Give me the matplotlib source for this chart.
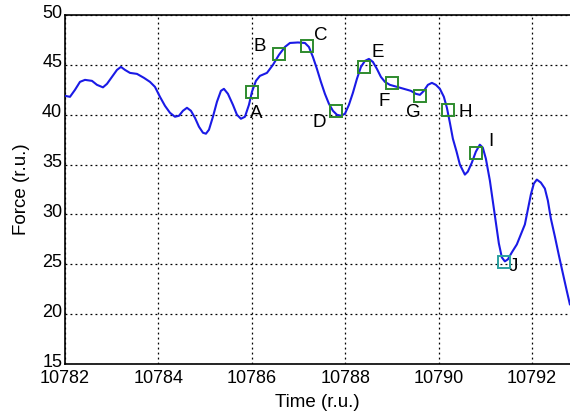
import numpy as np
import matplotlib
matplotlib.use('Agg')
import matplotlib.pyplot as plt
import matplotlib.transforms as mtransforms

plt.rcParams['font.family'] = ['Liberation Sans', 'DejaVu Sans']

# force trace (time given as offset from 10782)
t_off = [0.000, 0.107, 0.214, 0.321, 0.428, 0.578, 0.685, 0.813, 0.899, 1.006,
         1.113, 1.198, 1.284, 1.391, 1.541, 1.691, 1.819, 1.926, 2.033, 2.140,
         2.247, 2.354, 2.440, 2.525, 2.611, 2.696, 2.782, 2.868, 2.953, 3.017,
         3.082, 3.167, 3.253, 3.338, 3.402, 3.488, 3.595, 3.681, 3.766, 3.852,
         3.938, 4.002, 4.087, 4.173, 4.323, 4.451, 4.579, 4.708, 4.815, 4.986,
         5.136, 5.221, 5.307, 5.393, 5.478, 5.564, 5.650, 5.735, 5.821, 5.907,
         5.992, 6.078, 6.163, 6.249, 6.335, 6.420, 6.506, 6.591, 6.677, 6.762,
         6.848, 6.955, 7.105, 7.255, 7.404, 7.511, 7.597, 7.682, 7.768, 7.854,
         7.939, 8.025, 8.110, 8.175, 8.239, 8.303, 8.382, 8.453, 8.560, 8.623,
         8.709, 8.795, 8.880, 8.944, 9.009, 9.095, 9.159, 9.223, 9.287, 9.351,
         9.415, 9.480, 9.565, 9.672, 9.758, 9.844, 9.908, 9.972, 10.036, 10.100,
         10.186, 10.272, 10.336, 10.400, 10.486, 10.572, 10.657, 10.743, 10.807]
force = [41.9, 41.8, 42.5, 43.3, 43.5, 43.4, 43.0, 42.75, 43.1, 43.8,
         44.5, 44.8, 44.5, 44.2, 44.1, 43.7, 43.3, 42.8, 41.8, 40.9,
         40.2, 39.8, 39.9, 40.4, 40.7, 40.4, 39.7, 38.8, 38.2, 38.1,
         38.5, 39.8, 41.3, 42.4, 42.6, 42.1, 41.0, 40.0, 39.6, 39.8,
         41.0, 42.3, 43.4, 43.9, 44.2, 45.0, 46.0, 46.8, 47.2, 47.25,
         47.2, 46.8, 45.8, 44.6, 43.3, 42.1, 41.1, 40.4, 40.0, 39.9,
         40.1, 41.0, 42.2, 43.6, 44.8, 45.4, 45.6, 45.3, 44.6, 43.8,
         43.3, 43.0, 42.8, 42.6, 42.4, 42.1, 42.0, 42.4, 43.0, 43.2,
         43.0, 42.6, 41.8, 40.7, 39.2, 37.6, 36.3, 35.0, 34.0, 34.3,
         35.2, 36.3, 37.0, 36.7, 35.6, 33.4, 31.3, 29.2, 27.1, 25.7,
         25.3, 25.5, 26.2, 27.0, 28.0, 29.0, 30.5, 32.0, 33.1, 33.5,
         33.2, 32.6, 31.4, 29.6, 27.8, 25.9, 24.1, 22.3, 21.0]
time = 10782 + np.array(t_off)

# marked points A..J
mark_labels = ['A', 'B', 'C', 'D', 'E', 'F', 'G', 'H', 'I', 'J']
mark_time = [10786.00, 10786.58, 10787.19, 10787.80, 10788.40,
             10789.00, 10789.59, 10790.20, 10790.79, 10791.40]
mark_force = [42.25, 46.05, 46.9, 40.4, 44.8, 43.2, 41.9, 40.5, 36.2, 25.2]

xticks = [10782, 10784, 10786, 10788, 10790, 10792]
yticks = [15, 20, 25, 30, 35, 40, 45, 50]

# label offsets in pixels (dx right, dy down)
offs = [(4, 21), (-19, -8), (13, -10), (-17, 12), (14, -14),
        (-8, 19), (-6, 17), (17, 3), (15, -11), (9, 4)]

fig = plt.figure(figsize=(5.70, 4.18), dpi=100)
ax = fig.add_axes([0.114, 0.129, 0.886, 0.835])

ax.plot(time, force, color='#1a1ae6', lw=1.5, zorder=3)

for i, lab in enumerate(mark_labels):
    col = '#2aa0a0' if lab == 'J' else '#2e8b2e'
    ax.plot(mark_time[i], mark_force[i], marker='s', ms=9, mfc='none',
            mec=col, mew=1.4, zorder=4)
    dx, dy = offs[i]
    ax.annotate(lab, (mark_time[i], mark_force[i]), xytext=(dx * 0.72, -dy * 0.72),
                textcoords='offset points', ha='center', va='center', fontsize=13.5)

ax.set_xlim(10782, 10792.81)
ax.set_ylim(15, 50)
ax.set_xticks(xticks)
ax.set_yticks(yticks)
ax.set_xticklabels([str(t) for t in xticks])
ax.tick_params(labelsize=13, direction='in', length=0)
ax.tick_params(axis='x', pad=4)
ax.tick_params(axis='y', pad=2)
ax.grid(True, color='black', linestyle=(0, (1.5, 2.5)), lw=0.9)
ax.set_axisbelow(True)
for s in ['left', 'bottom', 'top']:
    ax.spines[s].set_linewidth(1.2)
ax.spines['right'].set_visible(False)

# y tick labels sit a little high in the original
shift = mtransforms.ScaledTranslation(0, 4 / 100, fig.dpi_scale_trans)
for lbl in ax.get_yticklabels():
    lbl.set_transform(lbl.get_transform() + shift)

ax.set_xlabel('Time (r.u.)', fontsize=13.5, labelpad=5)
ax.set_ylabel('Force (r.u.)', fontsize=13.5, labelpad=9)

fig.savefig('out.png', dpi=100)
